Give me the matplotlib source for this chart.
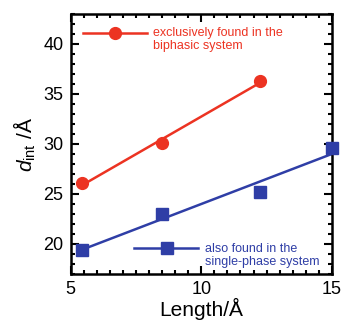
import numpy as np
import matplotlib
matplotlib.use('Agg')
import matplotlib.pyplot as plt
from matplotlib.ticker import MultipleLocator

plt.rcParams['font.family'] = ['Liberation Sans', 'DejaVu Sans']
plt.rcParams['mathtext.fontset'] = 'custom'
plt.rcParams['mathtext.rm'] = 'Liberation Sans'
plt.rcParams['mathtext.it'] = 'Liberation Sans:italic'

# biphasic-only series (red circles)
len_bi = [5.45, 8.5, 12.25]
d_bi = [26.1, 30.1, 36.3]
# single-phase series (blue squares)
len_single = [5.45, 8.5, 12.25, 15.0]
d_single = [19.4, 23.0, 25.2, 29.6]

RED = '#ec3322'
BLUE = '#2f3ea6'

fig = plt.figure(figsize=(3.43, 3.21), dpi=100)
ax = fig.add_axes([70.5 / 343, 1 - 274 / 321, 261.5 / 343, 260 / 321])

# linear fits
p_bi = np.polyfit(len_bi, d_bi, 1)
xb = np.array([len_bi[0], len_bi[-1]])
ax.plot(xb, np.polyval(p_bi, xb), color=RED, lw=1.8, zorder=2)
ax.plot(len_bi, d_bi, 'o', color=RED, ms=8.5, zorder=3)

p_s = np.polyfit(len_single, d_single, 1)
xs = np.array([len_single[0], 15.5])
ax.plot(xs, np.polyval(p_s, xs), color=BLUE, lw=1.8, zorder=2)
ax.plot(len_single, d_single, 's', color=BLUE, ms=8.5, zorder=3, clip_on=False)

# hand-made legend entries
ax.plot([5.49, 7.93], [41.1, 41.1], color=RED, lw=1.8)
ax.plot([6.71], [41.1], 'o', color=RED, ms=8.5)
ax.text(8.16, 40.45, 'exclusively found in the\nbiphasic system', color=RED,
        fontsize=9, va='center', ha='left', linespacing=1.15)

ax.plot([7.43, 9.87], [19.6, 19.6], color=BLUE, lw=1.8)
ax.plot([8.7], [19.6], 's', color=BLUE, ms=8.5)
ax.text(10.13, 18.85, 'also found in the\nsingle-phase system', color=BLUE,
        fontsize=9, va='center', ha='left', linespacing=1.15)

ax.set_xlim(5, 15)
ax.set_ylim(17, 43)
ax.xaxis.set_major_locator(MultipleLocator(5))
ax.xaxis.set_minor_locator(MultipleLocator(0.5))
ax.yaxis.set_minor_locator(MultipleLocator(1))
ax.set_yticks([20, 25, 30, 35, 40])
ax.tick_params(which='both', direction='in', top=True, right=True, width=1.5)
ax.tick_params(which='major', length=6, labelsize=13, pad=5)
ax.tick_params(which='minor', length=3)
for s in ax.spines.values():
    s.set_linewidth(1.8)

ax.set_xlabel('Length/Å', fontsize=15, labelpad=0)
ax.set_ylabel(r'$d_{\mathrm{int}}$ /Å', fontsize=15, labelpad=4)

fig.savefig('out.png', dpi=100)
